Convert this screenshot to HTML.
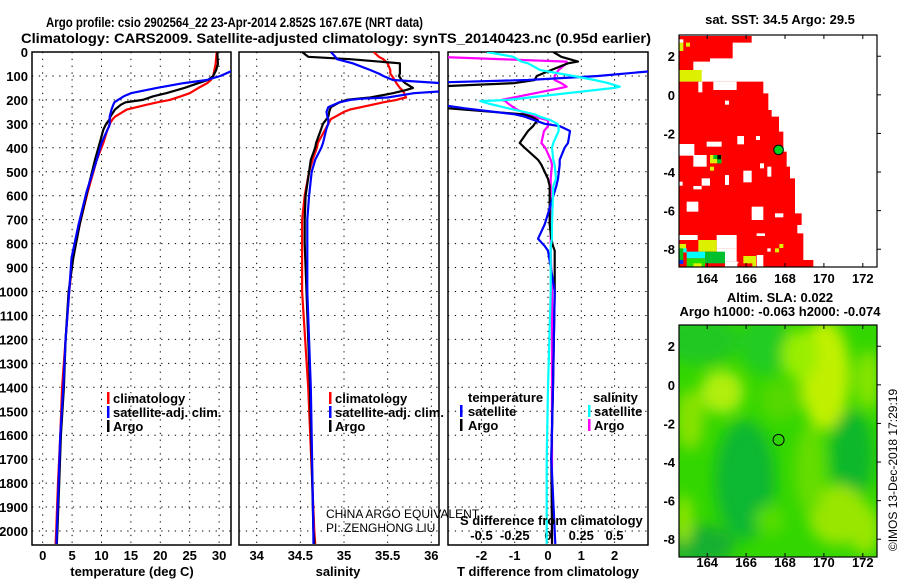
<!DOCTYPE html>
<html><head><meta charset="utf-8"><style>
body{margin:0;background:#fff}
svg{display:block;font-family:"Liberation Sans",sans-serif}
.b{font-weight:bold;font-size:13px}
</style></head><body>
<svg id="s" width="900" height="580" viewBox="0 0 900 580">
<defs>
<clipPath id="c1"><rect x="32" y="52" width="199" height="493"/></clipPath>
<clipPath id="c2"><rect x="239" y="52" width="200" height="493"/></clipPath>
<clipPath id="c3"><rect x="448" y="52" width="200" height="493"/></clipPath>
<clipPath id="cm2"><rect x="679" y="325" width="198" height="232"/></clipPath>
<filter id="bl" x="-50%" y="-50%" width="200%" height="200%"><feGaussianBlur stdDeviation="7"/></filter>
</defs>
<text x="46" y="27" textLength="377" lengthAdjust="spacingAndGlyphs" class="b" font-size="14" style="font-size:14px">Argo profile: csio 2902564_22 23-Apr-2014 2.852S 167.67E (NRT data)</text>
<text x="21" y="43" textLength="630" lengthAdjust="spacingAndGlyphs" class="b" style="font-size:14px">Climatology: CARS2009. Satellite-adjusted climatology: synTS_20140423.nc (0.95d earlier)</text>
<g id="g"></g>
</svg>
<script>
// ---- data ----
const depthTicks=[0,100,200,300,400,500,600,700,800,900,1000,1100,1200,1300,1400,1500,1600,1700,1800,1900,2000];
const tempTicks=[0,5,10,15,20,25,30];
const salTicks=[34,34.5,35,35.5,36];
const tdiffTicks=[-2,-1,0,1,2];
const sdiffTicks=[-0.5,-0.25,0,0.25,0.5];
const tDepth=[0,50,75,100,117,130,150,172,185,200,210,220,240,270,280,300,310,325,380,450,580,720,860,1000,1200,1400,1600,1800,2000,2054];
const tClim=[29.6,29.4,29.2,29.0,28.6,28.0,26.5,25.0,23.5,21.6,19.5,17.7,14.3,12.3,11.9,11.4,11.3,11.0,10.3,9.2,7.7,6.3,5.1,4.5,3.9,3.3,3.0,2.6,2.3,2.2];
const tSat=[34.5,33.5,32.5,30.2,27.9,24,19.4,15.0,13.8,12.8,12.2,12.0,11.7,11.4,11.4,11.4,11.3,11.0,10.0,9.2,7.5,6.1,4.9,4.5,3.9,3.5,3.0,2.7,2.4,2.35];
const tArgo=[29.7,29.8,29.5,29.0,28.1,26.5,24.1,21,18.8,17,14.1,13.3,12.3,11.5,11.4,10.8,10.6,10.3,9.7,8.9,7.6,6.3,5.2,4.4,3.9,3.6,3.1,2.8,2.5,2.4];
const sDepth=[0,20,30,47,75,90,100,117,130,150,160,172,190,195,200,210,230,240,250,270,280,300,320,380,400,450,500,600,700,800,1000,1400,2000,2054];
const sClim=[35.34,35.4,35.45,35.5,35.53,35.53,35.55,35.58,35.6,35.64,35.67,35.69,35.71,35.65,35.6,35.45,35.2,35.07,35.0,34.9,34.85,34.82,34.79,34.7,34.69,34.64,34.6,34.55,34.52,34.52,34.52,34.59,34.66,34.67];
const sSat=[34.85,34.9,34.92,35.1,35.3,35.4,35.45,35.56,36.1,36.4,36.3,35.8,35.5,35.2,35.07,34.95,34.82,34.81,34.8,34.81,34.82,34.82,34.8,34.76,34.74,34.67,34.63,34.6,34.58,34.58,34.58,34.62,34.65,34.65];
const sArgo=[34.52,34.59,35.07,35.64,35.64,35.64,35.63,35.66,35.7,35.79,35.7,35.56,35.3,35.15,35.03,34.95,34.85,34.84,34.83,34.82,34.8,34.76,34.74,34.68,34.67,34.62,34.6,34.56,34.55,34.55,34.57,34.61,34.65,34.66];
const dDepth=[0,20,40,47,75,100,117,130,145,150,200,205,215,235,260,270,285,300,310,330,380,400,450,470,530,560,720,780,810,830,1000,1400,1700,2000,2054];
const dTsat=[4.5,4.3,4.0,3.8,3.5,1.5,-0.6,-4,-5,-5,-5,-4,-3.5,-2.5,-1,-0.7,-0.4,-0.1,0.36,0.66,0.6,0.5,0.35,0.35,0.3,0.25,-0.1,-0.3,-0.1,0,0.2,0.15,0.1,0.2,0.22];
const dTargo=[0.16,0.4,0.9,0.6,0.1,-0.34,-0.4,-1.0,-3.5,-3.5,-3.5,-3.5,-3.2,-3,-0.75,-0.5,-0.3,-0.4,-0.45,-0.6,-0.85,-0.7,-0.3,-0.2,0,0.05,0.05,0.1,0.15,0.2,0.2,0.15,0.1,0.12,0.12];
const dSsat=[-0.46,-0.26,-0.2,-0.15,-0.06,0.19,0.35,0.45,0.54,0.5,-0.3,-0.51,-0.45,-0.3,-0.1,-0.06,0.02,0.07,0.08,0.08,0.04,0.03,0.04,0.05,0.06,0.04,0.03,0.03,0.02,0.02,0.02,0.0,-0.01,-0.01,-0.01];
const dSargo=[-0.84,-0.84,0.14,0.14,0.08,0.05,0.05,0.1,0.14,0.1,-0.35,-0.32,-0.3,-0.25,-0.16,-0.1,0,0.0,0.0,-0.03,-0.05,-0.02,0.02,0.03,0.02,0.02,0.02,0.02,0.02,0.02,0.03,0.03,0.03,0.03,0.03];
const mapLon=[164,166,168,170,172];
const mapLat=[2,0,-2,-4,-6,-8];
// ---- axes ----
const NS="http://www.w3.org/2000/svg";
const G=document.getElementById('g');
function el(t,a,p){const e=document.createElementNS(NS,t);for(const k in a)e.setAttribute(k,a[k]);(p||G).appendChild(e);return e;}
const Y=d=>52+d*0.2395;
const X1=v=>42.7+v*5.88;
const X2=v=>256.7+(v-34)*87.3;
const X3=v=>548+v*33.3;
const X3s=v=>548+v*133;
const panels=[[32,231,'c1'],[239,439,'c2'],[448,648,'c3']];
panels.forEach((p,i)=>{
  const r=el('rect',{x:p[0],y:52,width:p[1]-p[0],height:493,fill:'none',stroke:'#000','stroke-width':1.5});
  
  
  depthTicks.forEach(d=>{const l=el('line',{x1:p[0],x2:p[1],y1:Y(d),y2:Y(d),stroke:'#000','stroke-dasharray':'1.3,5.5'});
  
  });
});
depthTicks.forEach(d=>{const t=el('text',{x:28,y:Y(d)+5,'text-anchor':'end',class:'b'});t.textContent=d;

});
function xgrid(ticks,fx,labels,ly){ticks.forEach((v,i)=>{const l=el('line',{x1:fx(v),x2:fx(v),y1:52,y2:545,stroke:'#000','stroke-dasharray':'1.3,5.5'});


if(labels){const t=el('text',{x:fx(v),y:ly,'text-anchor':'middle',class:'b'});t.textContent=labels[i];

}});}
xgrid(tempTicks,X1,tempTicks.map(String),560);
xgrid(salTicks,X2,salTicks.map(String),560);
xgrid(tdiffTicks,X3,tdiffTicks.map(String),560);
sdiffTicks.forEach(v=>{const t=el('text',{x:X3s(v),y:540,'text-anchor':'middle',class:'b'});t.textContent=String(v).replace('0.','0.');

});
// series
function line(xs,ds,fx,col,clip,name){const pts=xs.map((v,i)=>fx(v).toFixed(1)+','+Y(ds[i]).toFixed(1)).join(' ');
const e=el('polyline',{points:pts,fill:'none',stroke:col,'stroke-width':2.2,'clip-path':'url(#'+clip+')','stroke-linejoin':'round'});

}
line(tClim,tDepth,X1,'#f00','c1','temp-climatology-line');
line(tArgo,tDepth,X1,'#000','c1','temp-argo-line');
line(tSat,tDepth,X1,'#00f','c1','temp-satellite-line');
line(sClim,sDepth,X2,'#f00','c2','sal-climatology-line');
line(sArgo,sDepth,X2,'#000','c2','sal-argo-line');
line(sSat,sDepth,X2,'#00f','c2','sal-satellite-line');
line(dSargo,dDepth,X3s,'#f0f','c3','sdiff-argo-line');
line(dTargo,dDepth,X3,'#000','c3','tdiff-argo-line');
line(dTsat,dDepth,X3,'#00f','c3','tdiff-satellite-line');
line(dSsat,dDepth,X3s,'#0ff','c3','sdiff-satellite-line');
// text helpers
function txt(x,y,s,name,extra){const t=el('text',Object.assign({x:x,y:y,class:'b'},extra||{}));t.textContent=s;

return t;}
function mark(x,y,c){const r=el('rect',{x:x,y:y-11,width:2.5,height:12,fill:c});

}
[[107,'climatology','#f00',403],[107,'satellite-adj. clim.','#00f',417],[107,'Argo','#000',431]].forEach(a=>{mark(a[0],a[3],a[2]);txt(a[0]+6,a[3],a[1],'legend-entry');});
[[329,'climatology','#f00',403],[329,'satellite-adj. clim.','#00f',417],[329,'Argo','#000',431]].forEach(a=>{mark(a[0],a[3],a[2]);txt(a[0]+6,a[3],a[1],'legend-entry',{textLength:a[1].length>12?109:0});});
txt(468,402,'temperature','legend-title-temperature');
mark(460,416,'#00f');txt(468,416,'satellite','legend-entry');
mark(460,430,'#000');txt(468,430,'Argo','legend-entry');
txt(593,402,'salinity','legend-title-salinity');
mark(588,416,'#0ff');txt(594,416,'satellite','legend-entry');
mark(588,430,'#f0f');txt(594,430,'Argo','legend-entry');
txt(460,525,'S difference from climatology','s-diff-axis-title');
txt(132,576,'temperature (deg C)','x-axis-title-temperature',{'text-anchor':'middle'});
txt(338,576,'salinity','x-axis-title-salinity',{'text-anchor':'middle'});
txt(548,576,'T difference from climatology','x-axis-title-tdiff',{'text-anchor':'middle'});
txt(326,518,'CHINA ARGO EQUIVALENT','pi-institution',{style:'font-weight:normal;font-size:12px'});
txt(326,532,'PI: ZENGHONG LIU','pi-name',{style:'font-weight:normal;font-size:12px'});
// ---- map 1 ----
const MX=v=>679+(v-162.55)*19.45;
const M1Y=v=>35+(3.1-v)*19.3;
const M2Y=v=>325+(3.1-v)*19.3;
const Z=(zx,zy)=>[660+zx/3,zy/3];
function zr(zx,zy,w,h,c,name){const p=Z(zx,zy);const r=el('rect',{x:p[0],y:p[1],width:w/3,height:h/3,fill:c});

}
function zp(arr,c,name){const e=el('polygon',{points:arr.map(a=>Z(a[0],a[1]).join(',')).join(' '),fill:c});

}
zp([[58,108],[275,108],[275,128],[218,128],[218,175],[150,175],[150,185],[100,185],[100,210],[58,210]],'#f00','sst-red-north');
zr(58,210,67,35,'#ddf000','sst-yellow-patch');zr(90,210,35,12,'#ddf000');
zr(58,128,12,25,'#ddf000');zr(78,128,12,12,'#ddf000');zr(58,118,12,10,'#fff');
zp([[58,245],[310,245],[310,280],[325,280],[325,330],[335,330],[335,350],[357,350],[357,395],[370,395],[370,455],[380,455],[380,500],[390,500],[390,535],[405,535],[405,640],[425,640],[425,700],[430,700],[430,780],[460,780],[460,802],[58,802]],'#f00','sst-red-main');
[[115,245,12,32],[160,245,70,25],[195,302,12,12],[232,408,20,25],[288,408,12,12],[58,432,45,35],[100,465,40,35],[140,425,45,15],[250,512,25,35],[125,535,25,22],[195,525,12,30],[58,545,10,12],[100,558,25,10],[300,490,12,15],[322,500,12,30],[80,605,35,30],[275,620,35,40],[345,640,25,12],[412,675,15,25],[290,700,25,8],[170,705,60,40],[58,705,55,15],[170,745,60,40],[195,785,40,17],[290,765,20,35],[322,745,10,10]].forEach(a=>zr(a[0],a[1],a[2],a[3],'#fff','sst-missing-cell'));
zr(150,465,35,25,'#ddf000');zr(160,465,12,12,'#00c020');zr(172,465,12,25,'#000');zr(172,478,12,12,'#00c020');zr(150,500,12,12,'#ddf000');
zr(115,720,55,35,'#ddf000');zr(58,732,20,25,'#ddf000');zr(58,745,12,35,'#00c020');zr(70,745,10,12,'#00ffff');
zr(80,755,55,20,'#00ffff');zr(135,755,60,35,'#00c030');zr(80,775,55,27,'#22dd00');zr(100,790,25,12,'#ddf000');
zr(58,780,12,12,'#0030ff');zr(250,768,38,34,'#ddf000');zr(232,790,45,12,'#f00');zr(358,732,12,12,'#ddf000');zr(345,745,12,12,'#ddf000');
const m1=el('rect',{x:679,y:35,width:198,height:232,fill:'none',stroke:'#000','stroke-width':1.2});


let dot=el('circle',{cx:MX(167.67),cy:M1Y(-2.852),r:4.8,fill:'#00d020',stroke:'#000','stroke-width':1});


// ---- map 2 ----
const bg=el('rect',{x:679,y:325,width:198,height:232,fill:'#33d600'});


const blobs=el('g',{'clip-path':'url(#cm2)'});


const bg2=el('g',{filter:'url(#bl)'},blobs);
[[700,340,40,25,'#22c822'],[765,345,25,30,'#22cc22'],[825,375,25,55,'#c0f000'],[800,355,18,25,'#99ee00'],[722,392,22,22,'#b0ee10'],[690,420,14,30,'#88e200'],
[745,480,30,60,'#11b830'],[852,455,22,45,'#10b82a'],[838,515,30,30,'#99e600'],[810,470,15,45,'#66dd00'],[865,530,15,25,'#99e600'],[700,545,35,20,'#18b032'],[684,520,8,25,'#99e600'],[770,520,15,15,'#55dd00'],[780,400,20,20,'#55d800'],[868,380,12,30,'#88e400']].forEach(b=>{
const e=el('ellipse',{cx:b[0],cy:b[1],rx:b[2],ry:b[3],fill:b[4]},bg2);

});
const m2=el('rect',{x:679,y:325,width:198,height:232,fill:'none',stroke:'#000','stroke-width':1.2});


dot=el('circle',{cx:MX(167.67),cy:M2Y(-2.852),r:5.5,fill:'none',stroke:'#000','stroke-width':1});


// map ticks
[[M1Y,283,35,267],[M2Y,567,325,557]].forEach(m=>{
mapLon.forEach(v=>{txt(MX(v),m[1],String(v),'map-lon-label',{'text-anchor':'middle'});
el('line',{x1:MX(v),x2:MX(v),y1:m[2],y2:m[2]+4,stroke:'#000'});el('line',{x1:MX(v),x2:MX(v),y1:m[3],y2:m[3]-4,stroke:'#000'});});
mapLat.forEach(v=>{txt(675,m[0](v)+5,String(v),'map-lat-label',{'text-anchor':'end'});
el('line',{x1:877,x2:881,y1:m[0](v),y2:m[0](v),stroke:'#000'});});
});
txt(780,24,'sat. SST: 34.5 Argo: 29.5','sst-map-title',{'text-anchor':'middle'});
txt(780,302,'Altim. SLA: 0.022','sla-map-title',{'text-anchor':'middle'});
txt(780,316,'Argo h1000: -0.063 h2000: -0.074','sla-map-subtitle',{'text-anchor':'middle'});
txt(897,470,'©IMOS 13-Dec-2018 17:29:19','imos-credit',{'text-anchor':'middle',transform:'rotate(-90 897 470)',style:'font-weight:normal;font-size:12px'});
</script>
</body></html>
